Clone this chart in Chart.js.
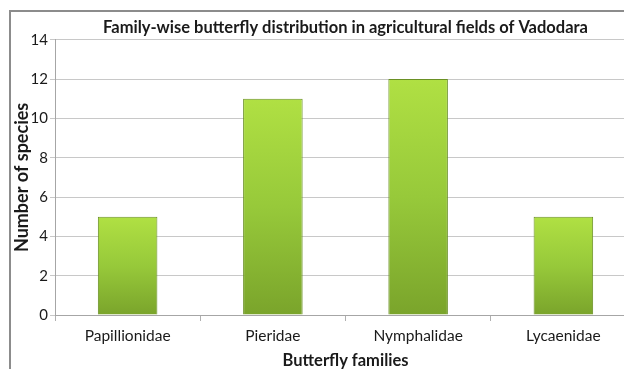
<!DOCTYPE html>
<html>
<head>
<meta charset="utf-8">
<script src="https://cdn.jsdelivr.net/npm/chart.js@4"></script>
<style>
  html, body { margin: 0; padding: 0; background: #fff; overflow: hidden; }
  #moldura {
    position: absolute; left: 9px; top: 10px; width: 700px; height: 500px;
    border: 2px solid #8c8c8c; border-right: none; border-bottom: none;
  }
  #caixa { position: absolute; left: 0; top: 0; width: 640px; height: 371px; }
</style>
</head>
<body>
<div id="moldura"></div>
<div id="caixa"><canvas id="graficoFamilias" width="640" height="371"></canvas></div>
<script>
// familias de borboletas
const familias = ['Papillionidae', 'Pieridae', 'Nymphalidae', 'Lycaenidae']
const especies = [5, 11, 12, 5]
const tituloGrafico = 'Family-wise butterfly distribution in agricultural fields of Vadodara'
const tituloX = 'Butterfly families'
const tituloY = 'Number of species'

function corDaBarra(context) {
  const grafico = context.chart
  const escala = grafico.scales.y
  const valor = context.parsed ? context.parsed.y : undefined
  if (!escala || !grafico.chartArea || !isFinite(valor)) return '#95c63a'
  const topo = escala.getPixelForValue(valor)
  const base = escala.getPixelForValue(0)
  if (!isFinite(topo) || !isFinite(base)) return '#95c63a'
  const gradiente = grafico.ctx.createLinearGradient(0, topo, 0, base)
  gradiente.addColorStop(0, '#b0e043')
  gradiente.addColorStop(0.5, '#97c93a')
  gradiente.addColorStop(1, '#7aa42b')
  return gradiente
}

const graficoFamilias = document.getElementById('graficoFamilias')

new Chart(graficoFamilias, {
  type: 'bar',
  data: {
    labels: familias,
    datasets: [{
      label: tituloY,
      data: especies,
      backgroundColor: corDaBarra,
      borderColor: '#6a9024',
      borderWidth: 1,
      categoryPercentage: 1,
      barPercentage: 0.41
    }]
  },
  options: {
    responsive: false,
    animation: false,
    layout: { padding: { left: 8, right: 4, top: 0, bottom: 0 } },
    plugins: {
      legend: { display: false },
      tooltip: { enabled: false },
      title: {
        display: true,
        text: tituloGrafico,
        fullSize: false,
        color: '#1a1a1a',
        font: { family: 'Lato', size: 16.5, weight: 'bold' },
        padding: { top: 18, bottom: 2 }
      }
    },
    scales: {
      x: {
        afterFit: (escala) => { escala.height = 56 },
        grid: { drawOnChartArea: false, drawTicks: true, tickLength: 6, color: '#b0b0b0' },
        border: { color: '#a6a6a6' },
        ticks: { color: '#1a1a1a', font: { family: 'Lato', size: 15.5 }, padding: 6 },
        title: {
          display: true, text: tituloX, color: '#1a1a1a',
          font: { family: 'Lato', size: 16.5, weight: 'bold' },
          padding: { top: 0, bottom: 0 }
        }
      },
      y: {
        min: 0,
        max: 14,
        afterFit: (escala) => { escala.width = 47 },
        ticks: { stepSize: 2, color: '#1a1a1a', font: { family: 'Lato', size: 15 }, padding: 2 },
        grid: { color: '#c8c8c8', tickLength: 5 },
        border: { color: '#a6a6a6' },
        title: {
          display: true, text: tituloY, color: '#1a1a1a',
          font: { family: 'Lato', size: 18, weight: 'bold' },
          padding: { top: 3, bottom: 2 }
        }
      }
    }
  }
})
</script>
</body>
</html>
